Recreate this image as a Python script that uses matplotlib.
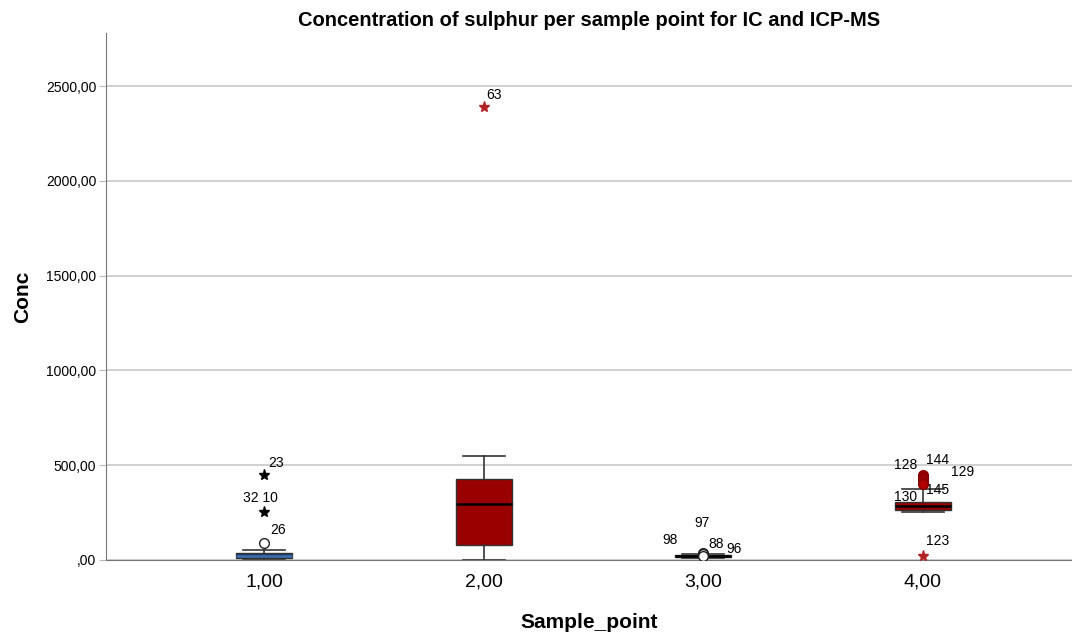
import numpy as np
import matplotlib.pyplot as plt

plt.rcParams['font.family'] = ['Liberation Sans', 'DejaVu Sans']

# box statistics per sample point
sample_points = [1, 2, 3, 4]
whislo = [0, 0, 12, 251]
q1 = [10, 79, 18, 262]
med = [20, 295, 22, 286]
q3 = [38, 427, 27, 307]
whishi = [55, 548, 32, 372]
box_colors = ['#1f3a66', '#990000', '#990000', '#990000']
median_colors = ['#3d6fb0', 'black', 'black', 'black']

# outliers: group, value, case id, kind ('o' mild, '*' extreme)
out_group = [1, 1, 1, 2, 3, 3, 3, 3, 4, 4, 4, 4, 4, 4]
out_value = [447, 253, 90, 2387, 37, 24, 30, 22, 448, 438, 425, 410, 400, 21]
out_id = ['23', '32 10', '26', '63', '97', '98', '88', '96', '144', '128', '129', '130', '145', '123']
out_kind = ['*', '*', 'o', '*', 'o', 'o', 'o', 'o', 'o', 'o', 'o', 'o', 'o', '*']

# label offsets in pixels (layout only)
lab_off = [(4, 12), (-21, 14), (6, 13), (3, 12), (-9, 30), (-41, 15), (5, 10), (23, 7),
           (3, 15), (-29, 12), (28, 7), (-29, -15), (3, -6), (3, 15)]

fig = plt.figure(figsize=(10.72, 6.38), dpi=100)
ax = fig.add_axes([0.099, 0.1223, 0.901, 0.826])

stats = []
for i in range(len(sample_points)):
    stats.append({'whislo': whislo[i], 'q1': q1[i], 'med': med[i],
                  'q3': q3[i], 'whishi': whishi[i], 'fliers': []})

bp = ax.bxp(stats, positions=sample_points, widths=0.255, patch_artist=True,
            showfliers=False,
            boxprops=dict(edgecolor='#333333', linewidth=1),
            whiskerprops=dict(color='#333333', linewidth=1.2),
            capprops=dict(color='#333333', linewidth=1.2),
            medianprops=dict(linewidth=1.8), capwidths=0.19)
for patch, c in zip(bp['boxes'], box_colors):
    patch.set_facecolor(c)
for m, c in zip(bp['medians'], median_colors):
    m.set_color(c)

for g, v, lab, k, off in zip(out_group, out_value, out_id, out_kind, lab_off):
    if k == '*':
        ax.plot(g, v, marker='*', color='#b22222' if g in (2, 4) else 'black',
                markersize=8, linestyle='none', zorder=4)
    elif g == 4:
        ax.plot(g, v, marker='o', markerfacecolor='#b00000', markeredgecolor='#880000',
                markersize=7, linestyle='none', zorder=4)
    else:
        ax.plot(g, v, marker='o', markerfacecolor='white', markeredgecolor='#222222',
                markersize=7, linestyle='none', zorder=4)
    ax.annotate(lab, (g, v), xytext=off, textcoords='offset pixels',
                fontsize=10, color='black', ha='left', va='center')

ax.set_xlim(0.28, 4.68)
ax.set_ylim(0, 2780)
ax.set_xticks(sample_points)
ax.set_xticklabels(['%d,00' % s for s in sample_points], fontsize=14)
yt = [0, 500, 1000, 1500, 2000, 2500]
ax.set_yticks(yt)
ax.set_yticklabels([',00' if t == 0 else '%d,00' % t for t in yt], fontsize=10)
ax.yaxis.grid(True, color='#c8c8c8', linewidth=1.2)
ax.set_axisbelow(True)
for s in ['top', 'right']:
    ax.spines[s].set_visible(False)
for s in ['left', 'bottom']:
    ax.spines[s].set_color('#777777')
ax.tick_params(axis='x', length=0, pad=10, colors='black')
ax.tick_params(axis='y', length=5, color='#bbbbbb', pad=2, colors='black')

ax.set_title('Concentration of sulphur per sample point for IC and ICP-MS',
             fontsize=14.5, fontweight='bold', pad=5)
ax.set_xlabel('Sample_point', fontsize=15, fontweight='bold', labelpad=16)
ax.set_ylabel('Conc', fontsize=15, fontweight='bold', labelpad=10)

fig.savefig('out.png', dpi=100)
